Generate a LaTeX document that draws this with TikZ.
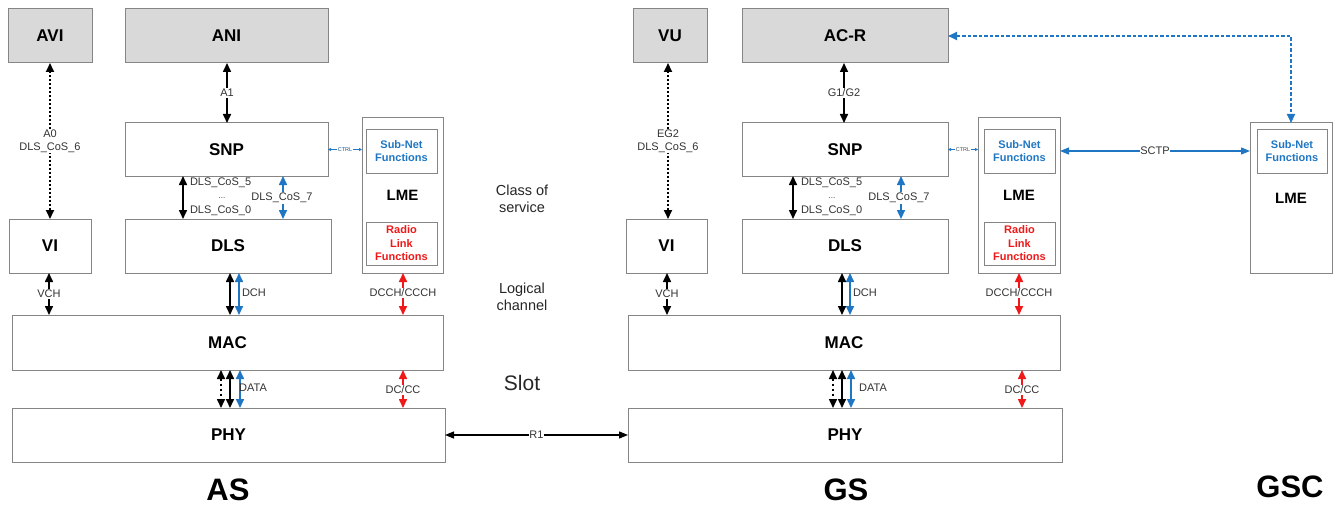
\documentclass[tikz,border=0pt]{standalone}
\usepackage{fontspec}
\setmainfont{Liberation Sans}
\usetikzlibrary{arrows.meta,calc}
\definecolor{myblue}{HTML}{1F77C4}
\definecolor{myred}{HTML}{F01818}
\definecolor{boxgray}{HTML}{D9D9D9}
\definecolor{edgegray}{HTML}{858585}
\begin{document}
\begin{tikzpicture}[x=1pt,y=-1pt,
  box/.style={draw=edgegray, line width=1pt, inner sep=0pt, outer sep=0pt, anchor=north west, fill=white, font=\fontsize{17}{20}\selectfont\bfseries},
  gbox/.style={box, fill=boxgray},
  subbox/.style={box, align=center, font=\fontsize{11}{13.5}\selectfont\bfseries},
  lbl/.style={font=\fontsize{11}{13}\selectfont, text=black!80, inner sep=0.8pt, align=center},
  arr/.style={line width=1.6pt, {Triangle[length=9pt,width=8pt]}-{Triangle[length=9pt,width=8pt]}},
  thinarr/.style={line width=1.3pt, {Triangle[length=9pt,width=7pt]}-{Triangle[length=9pt,width=7pt]}},
  dotarr/.style={line width=2pt, dash pattern=on 2pt off 2pt, {Triangle[length=9pt,width=8pt]}-{Triangle[length=9pt,width=8pt]}},
  bigtitle/.style={font=\fontsize{31}{34}\selectfont\bfseries, inner sep=0pt},
  side/.style={font=\fontsize{14.5}{17}\selectfont, text=black!85, align=center, inner sep=0pt}
]
\useasboundingbox (0,0) rectangle (1340,508);

% ---------- AS ----------
\node[gbox, minimum width=84pt, minimum height=54pt] (avi) at (8,9) {AVI};
\node[gbox, minimum width=203pt, minimum height=54pt] (ani) at (125,9) {ANI};
\node[box, minimum width=203pt, minimum height=53pt] (snpA) at (125,123) {SNP};
\node[box, minimum width=82pt, minimum height=54pt] (viA) at (9,219) {VI};
\node[box, minimum width=206pt, minimum height=54pt] (dlsA) at (125,219) {DLS};
\node[box, minimum width=81pt, minimum height=155pt, font=\fontsize{15}{18}\selectfont\bfseries] (lmeA) at (362,118) {LME};
\node[subbox, text=myblue, minimum width=71pt, minimum height=44pt] (subA) at (366,129) {Sub-Net\\Functions};
\node[subbox, text=myred, minimum width=71pt, minimum height=43pt] (radA) at (366,222) {Radio\\Link\\Functions};
\node[box, minimum width=431pt, minimum height=55pt] (macA) at (12,315) {MAC};
\node[box, minimum width=433pt, minimum height=54pt] (phyA) at (12,408) {PHY};
\node[bigtitle] (asT) at (228,490) {AS};

% ---------- GS ----------
\node[gbox, minimum width=74pt, minimum height=54pt] (vu) at (633,9) {VU};
\node[gbox, minimum width=206pt, minimum height=54pt] (acr) at (742,9) {AC-R};
\node[box, minimum width=206pt, minimum height=53pt] (snpG) at (742,123) {SNP};
\node[box, minimum width=81pt, minimum height=54pt] (viG) at (626,219) {VI};
\node[box, minimum width=206pt, minimum height=54pt] (dlsG) at (742,219) {DLS};
\node[box, minimum width=82pt, minimum height=155pt, font=\fontsize{15}{18}\selectfont\bfseries] (lmeG) at (978,118) {LME};
\node[subbox, text=myblue, minimum width=71pt, minimum height=44pt] (subG) at (984,129) {Sub-Net\\Functions};
\node[subbox, text=myred, minimum width=71pt, minimum height=43pt] (radG) at (984,222) {Radio\\Link\\Functions};
\node[box, minimum width=432pt, minimum height=55pt] (macG) at (628,315) {MAC};
\node[box, minimum width=434pt, minimum height=54pt] (phyG) at (628,408) {PHY};
\node[bigtitle] (gsT) at (846,490) {GS};

% ---------- GSC ----------
\node[box, minimum width=82pt, minimum height=150pt, font=\fontsize{15}{18}\selectfont\bfseries] (lmeC) at (1250,123) {LME};
\node[subbox, text=myblue, minimum width=70pt, minimum height=44pt] (subC) at (1257,129) {Sub-Net\\Functions};
\node[bigtitle] (gscT) at (1290,487) {GSC};

% ---------- middle labels ----------
\node[side] (cos) at (522,199) {Class of\\service};
\node[side] (lch) at (522,297) {Logical\\channel};
\node[font=\fontsize{21}{24}\selectfont, text=black!85, inner sep=0pt] (slot) at (522,383) {Slot};

% ---------- AS connectors ----------
\draw[dotarr] (avi.south) -- (viA.north) node[midway, lbl, fill=white] (l0) {A0\\DLS\_CoS\_6};
\draw[arr] (ani.south -| 227,0) -- (snpA.north -| 227,0) node[midway, lbl, fill=white] (l1) {A1};
\draw[arr] (snpA.south -| 183,0) -- (dlsA.north -| 183,0);
\node[lbl, anchor=west] (c5a) at (189,183) {DLS\_CoS\_5};
\node[lbl, anchor=center, font=\fontsize{8}{9}\selectfont] (cdA) at (222,198) {...};
\node[lbl, anchor=west] (c0a) at (189,211) {DLS\_CoS\_0};
\draw[arr, myblue] (snpA.south -| 283,0) -- (dlsA.north -| 283,0);
\node[lbl, fill=white] (c7a) at (282,198) {DLS\_CoS\_7};
\draw[myblue, line width=0.7pt, {Triangle[length=3pt,width=3pt]}-{Triangle[length=3pt,width=3pt]}] (snpA.east) -- (snpA.east -| lmeA.west) node[midway, fill=white, inner sep=0.5pt, font=\fontsize{5.5}{6}\selectfont, text=myblue!70!black] (ctrlA) {CTRL};
\draw[arr] (viA.south -| 49,0) -- (macA.north -| 49,0) node[midway, lbl, fill=white] (vchA) {VCH};
\draw[arr] (dlsA.south -| 230,0) -- (macA.north -| 230,0);
\draw[arr, myblue] (dlsA.south -| 239,0) -- (macA.north -| 239,0);
\node[lbl, anchor=west] (dchA) at (241,293) {DCH};
\draw[arr, myred] (lmeA.south -| 403,0) -- (macA.north -| 403,0);
\node[lbl, fill=white] (dcchA) at (403,293) {DCCH/CCCH};
\draw[dotarr, dash pattern=on 2pt off 3pt, line width=1.6pt] (macA.south -| 221,0) -- (phyA.north -| 221,0);
\draw[arr] (macA.south -| 230,0) -- (phyA.north -| 230,0);
\draw[arr, myblue] (macA.south -| 240,0) -- (phyA.north -| 240,0);
\node[lbl, anchor=west, inner sep=0pt] (dataA) at (239,388) {DATA};
\draw[arr, myred] (macA.south -| 403,0) -- (phyA.north -| 403,0);
\node[lbl, fill=white] (dccA) at (403,390) {DC/CC};

% ---------- GS connectors ----------
\draw[dotarr] (vu.south -| 668,0) -- (viG.north -| 668,0) node[midway, lbl, fill=white] (lg0) {EG2\\DLS\_CoS\_6};
\draw[arr] (acr.south -| 844,0) -- (snpG.north -| 844,0) node[midway, lbl, fill=white] (lg1) {G1/G2};
\draw[arr] (snpG.south -| 793,0) -- (dlsG.north -| 793,0);
\node[lbl, anchor=west] (c5g) at (800,183) {DLS\_CoS\_5};
\node[lbl, anchor=center, font=\fontsize{8}{9}\selectfont] (cdG) at (832,198) {...};
\node[lbl, anchor=west] (c0g) at (800,211) {DLS\_CoS\_0};
\draw[arr, myblue] (snpG.south -| 901,0) -- (dlsG.north -| 901,0);
\node[lbl, fill=white] (c7g) at (899,198) {DLS\_CoS\_7};
\draw[myblue, line width=0.7pt, {Triangle[length=3pt,width=3pt]}-{Triangle[length=3pt,width=3pt]}] (snpG.east) -- (snpG.east -| lmeG.west) node[midway, fill=white, inner sep=0.5pt, font=\fontsize{5.5}{6}\selectfont, text=black!70] (ctrlG) {CTRL};
\draw[arr] (viG.south -| 667,0) -- (macG.north -| 667,0) node[midway, lbl, fill=white] (vchG) {VCH};
\draw[arr] (dlsG.south -| 842,0) -- (macG.north -| 842,0);
\draw[arr, myblue] (dlsG.south -| 850,0) -- (macG.north -| 850,0);
\node[lbl, anchor=west] (dchG) at (852,293) {DCH};
\draw[arr, myred] (lmeG.south -| 1019,0) -- (macG.north -| 1019,0);
\node[lbl, fill=white] (dcchG) at (1019,293) {DCCH/CCCH};
\draw[dotarr, dash pattern=on 2pt off 3pt, line width=1.6pt] (macG.south -| 833,0) -- (phyG.north -| 833,0);
\draw[arr] (macG.south -| 842,0) -- (phyG.north -| 842,0);
\draw[arr, myblue] (macG.south -| 851,0) -- (phyG.north -| 851,0);
\node[lbl, anchor=west, inner sep=0pt] (dataG) at (859,388) {DATA};
\draw[arr, myred] (macG.south -| 1022,0) -- (phyG.north -| 1022,0);
\node[lbl, fill=white] (dccG) at (1022,390) {DC/CC};

% ---------- inter-station ----------
\draw[thinarr] (phyA.east) -- (phyG.west) node[midway, lbl, fill=white] (r1) {R1};
\draw[thinarr, myblue] (subG.east -| lmeG.east) -- (subG.east -| lmeC.west) node[midway, lbl, fill=white] (sctp) {SCTP};
\draw[myblue, line width=1.8pt, dash pattern=on 3.5pt off 2pt, {Triangle[length=9pt,width=8pt]}-{Triangle[length=9pt,width=8pt]}] (acr.east) -| (lmeC.north);
\end{tikzpicture}
\end{document}
